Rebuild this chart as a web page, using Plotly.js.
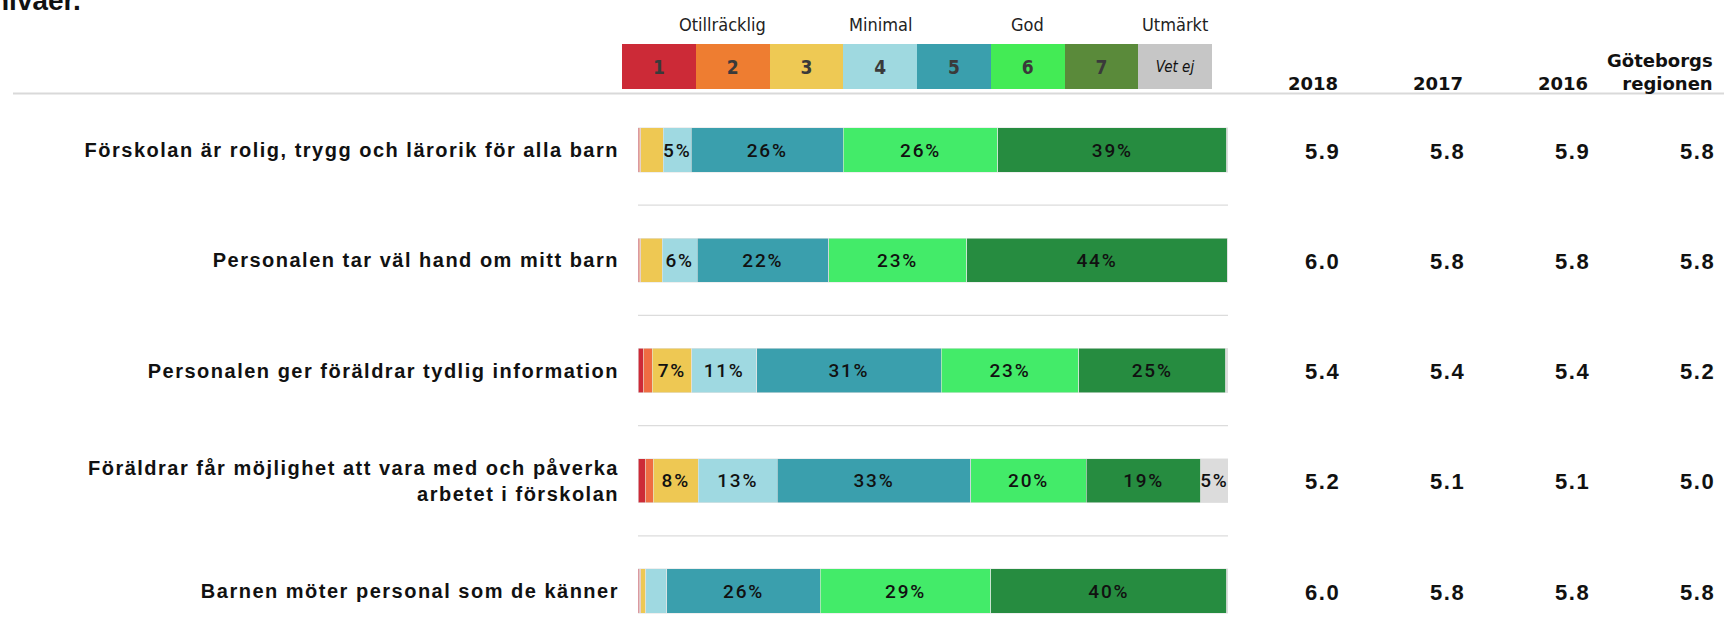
<!DOCTYPE html>
<html>
<head>
<meta charset="utf-8">
<script src="https://cdn.plot.ly/plotly-3.0.1.min.js"></script>
<style>
html,body{margin:0;padding:0;background:#fff;}
#chart{width:1724px;height:641px;}
.ytick text{letter-spacing:1.5px;}
text[style*="Helvetica"]{letter-spacing:1.6px;}
text[style*="Courier"]{letter-spacing:1.8px;}
</style>
</head>
<body>
<div id="chart"></div>
<script>
// ---------- data ----------
const categories = [
  'Förskolan är rolig, trygg och lärorik för alla barn',
  'Personalen tar väl hand om mitt barn',
  'Personalen ger föräldrar tydlig information',
  'Föräldrar får möjlighet att vara med och påverka<br>arbetet i förskolan',
  'Barnen möter personal som de känner'
];
const levelNames = ['1', '2', '3', '4', '5', '6', '7', 'Vet ej'];
// share (%) per answer level, one value per category
const level1 = [0.2, 0.2, 0.9, 1.2, 0.3];
const level2 = [0.3, 0.3, 1.5, 1.4, 0.2];
const level3 = [3.8, 3.6, 6.7, 7.6, 0.8];
const level4 = [4.7, 5.9, 11.0, 13.4, 3.6];
const level5 = [25.8, 22.3, 31.3, 32.8, 26.0];
const level6 = [26.2, 23.4, 23.3, 19.6, 28.9];
const level7 = [38.8, 44.2, 24.9, 19.4, 40.0];
const levelVetEj = [0.2, 0.1, 0.4, 4.6, 0.2];
const levels = [level1, level2, level3, level4, level5, level6, level7, levelVetEj];

const scaleLabels = ['Otillräcklig', 'Minimal', 'God', 'Utmärkt'];
const scaleLabelLevels = ['1', '3', '5', '7'];

const columnHeaders = ['2018', '2017', '2016', 'Göteborgs<br>regionen'];
const mean2018 = [5.9, 6.0, 5.4, 5.2, 6.0];
const mean2017 = [5.8, 5.8, 5.4, 5.1, 5.8];
const mean2016 = [5.9, 5.8, 5.4, 5.1, 5.8];
const meanRegion = [5.8, 5.8, 5.2, 5.0, 5.8];
const meanColumns = [mean2018, mean2017, mean2016, meanRegion];

const titleFragment = 'nivåer.';

// ---------- styles ----------
const W = 1724, H = 641;
const barColors = ['#CD2A37', '#EF6C42', '#EEC853', '#9FD9E1', '#3A9FAD', '#43EB69', '#268C40', '#DCDCDC'];
const legendColors = ['#CC2A37', '#EE7D31', '#EEC954', '#9FD9E0', '#3A9FAD', '#43EB55', '#5A8A3A', '#C6C6C6'];
const colRight = [1338, 1463, 1588, 1713];
const px = v => v / W;
const py = v => 1 - v / H;

const traces = [];
levels.forEach((vals, k) => {
  traces.push({
    type: 'bar', orientation: 'h',
    y: categories, x: vals,
    width: 0.4,
    marker: {color: barColors[k], line: {color: '#e4e4e4', width: 0.6}},
    text: vals.map(v => Math.round(v) >= 5 ? Math.round(v) + '%' : ''),
    textposition: 'inside', insidetextanchor: 'middle', textangle: 0,
    constraintext: 'none',
    textfont: {family: 'Roboto, Courier New, sans-serif', size: 19, color: '#111', weight: 500},
    hoverinfo: 'skip', showlegend: false,
    xaxis: 'x', yaxis: 'y'
  });
});

// colour key drawn as its own little bar chart
traces.push({
  type: 'bar',
  x: levelNames, y: levelNames.map(() => 1),
  width: 1,
  marker: {color: legendColors, line: {width: 0}},
  text: levelNames,
  textposition: 'inside', insidetextanchor: 'middle', textangle: 0,
  constraintext: 'none',
  textfont: {
    family: 'DejaVu Sans Condensed, Liberation Sans Narrow, Arial Narrow, sans-serif',
    size: levelNames.map(n => n === 'Vet ej' ? 15 : 19),
    color: levelNames.map(n => n === 'Vet ej' ? '#111' : '#3a3a3a'),
    weight: levelNames.map(n => n === 'Vet ej' ? 'normal' : 'bold'),
    style: levelNames.map(n => n === 'Vet ej' ? 'italic' : 'normal')
  },
  hoverinfo: 'skip', showlegend: false,
  xaxis: 'x2', yaxis: 'y2'
});

const annotations = [];
// title fragment (cut off at top, as in the source)
annotations.push({
  text: titleFragment, xref: 'paper', yref: 'paper',
  x: 0, xanchor: 'left', xshift: -8,
  y: py(16), yanchor: 'bottom', showarrow: false,
  borderpad: 0, borderwidth: 0,
  font: {family: 'Liberation Sans, Arial, sans-serif', size: 28, color: '#111', weight: 'bold'}
});
// scale labels above key
scaleLabels.forEach((t, i) => {
  annotations.push({
    text: t, xref: 'x2', yref: 'paper',
    x: scaleLabelLevels[i], xanchor: 'center', xshift: i === 0 ? -10 : 0,
    y: py(24), yanchor: 'middle', showarrow: false,
    font: {family: 'DejaVu Sans Condensed, Liberation Sans Narrow, Arial Narrow, sans-serif', size: 18, color: '#222'}
  });
});
// column headers
columnHeaders.forEach((t, j) => {
  annotations.push({
    text: t, xref: 'paper', yref: 'paper',
    x: px(colRight[j]), xanchor: 'right', align: 'right',
    y: py(94), yanchor: 'bottom', showarrow: false,
    borderpad: 0, borderwidth: 0,
    font: {family: 'DejaVu Sans, sans-serif', size: 18, color: '#111', weight: 'bold'}
  });
});
// column values
meanColumns.forEach((col, j) => {
  col.forEach((v, i) => {
    annotations.push({
      text: v.toFixed(1), xref: 'paper', yref: 'y',
      x: px(colRight[j] + 1.5), xanchor: 'right',
      y: i, yanchor: 'middle', yshift: -1, showarrow: false,
      borderpad: 0, borderwidth: 0,
      font: {family: 'Liberation Sans, Helvetica, sans-serif', size: 22, color: '#111', weight: 'bold'}
    });
  });
});

const shapes = [];
// header rule
shapes.push({type: 'line', xref: 'paper', yref: 'paper', x0: px(13), x1: 1, y0: py(93.5), y1: py(93.5),
  line: {color: '#D9D9D9', width: 2}});
// separators between rows
for (let i = 0; i < categories.length - 1; i++) {
  shapes.push({type: 'line', xref: 'x', yref: 'y', x0: 0, x1: 100, y0: i + 0.5, y1: i + 0.5,
    line: {color: '#DCDCDC', width: 1.2}, layer: 'below'});
}

const rowTop = 94.9, pitch = 110.25;
const layout = {
  width: W, height: H,
  margin: {l: 0, r: 0, t: 0, b: 0, pad: 0},
  paper_bgcolor: '#fff', plot_bgcolor: 'rgba(0,0,0,0)',
  barmode: 'stack',
  showlegend: false,
  xaxis: {domain: [px(638), px(1228)], range: [0, 100], visible: false, fixedrange: true},
  yaxis: {
    domain: [0, py(rowTop)], type: 'category',
    range: [(H - rowTop) / pitch - 0.5, -0.5],
    showgrid: false, zeroline: false, showline: false,
    ticks: 'outside', ticklen: 14, tickcolor: 'rgba(0,0,0,0)',
    tickfont: {family: 'Liberation Sans, Arial, sans-serif', size: 20, color: '#111', weight: 'bold'},
    automargin: false, fixedrange: true
  },
  xaxis2: {domain: [px(622), px(1212)], type: 'category', range: [-0.5, 7.5], visible: false, fixedrange: true, anchor: 'y2'},
  yaxis2: {domain: [py(89), py(44)], range: [0, 1], visible: false, fixedrange: true, anchor: 'x2'},
  annotations: annotations,
  shapes: shapes
};

Plotly.newPlot('chart', traces, layout, {displayModeBar: false, staticPlot: true});
</script>
</body>
</html>
